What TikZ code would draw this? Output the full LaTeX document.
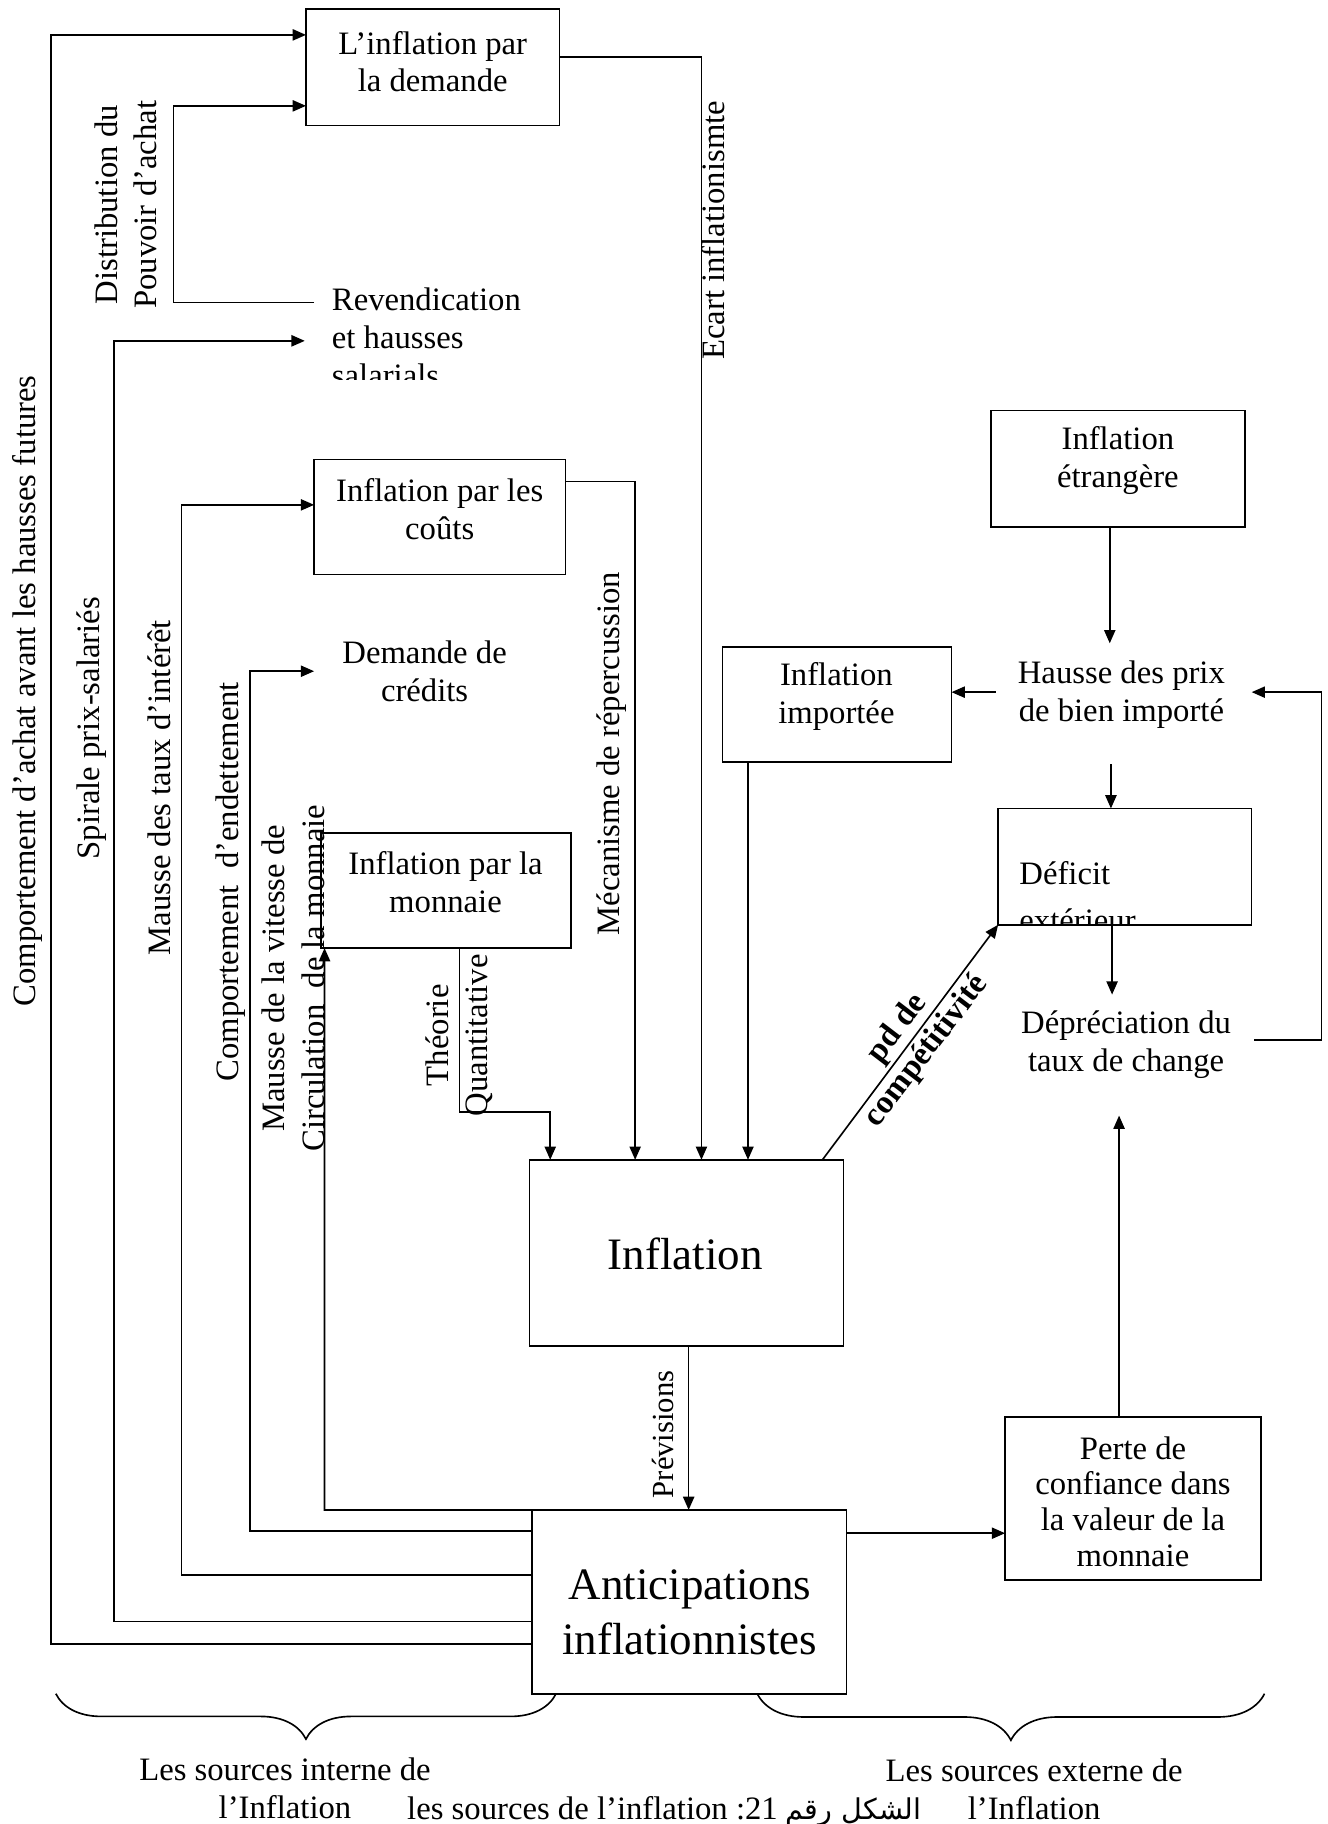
\documentclass[tikz,border=0pt]{standalone}
\usepackage{fontspec}
\setmainfont{Liberation Serif}
\newfontfamily\arabicfont[Script=Arabic]{DejaVu Sans}
\TeXXeTstate=1
\usetikzlibrary{arrows.meta,decorations.pathreplacing}
\begin{document}
\begin{tikzpicture}[x=0.02cm,y=-0.02cm,
  box/.style={draw,line width=0.8pt,inner sep=0pt,outer sep=0pt},
  txt/.style={inner sep=0pt,align=center,font=\fontsize{16}{18.5}\selectfont},
  rot/.style={txt,rotate=90},
  ln/.style={line width=0.8pt},
  arr/.style={ln,-{Triangle[length=6.5pt,width=5.5pt]}}]
\useasboundingbox (0,0) rectangle (1141,1568);

% boxes
\node[box,minimum width=4.36cm,minimum height=2cm] (dem) at (372,58) {};
\node[box,minimum width=4.32cm,minimum height=1.98cm] (cout) at (378,444.5) {};
\node[box,minimum width=4.30cm,minimum height=1.98cm] (mon) at (383.5,765.5) {};
\node[box,minimum width=5.4cm,minimum height=3.2cm] (infl) at (590,1077) {};
\node[box,minimum width=5.41cm,minimum height=3.16cm] (anti) at (592.5,1377) {};
\node[box,minimum width=4.36cm,minimum height=2cm] (etr) at (961,403) {};
\node[box,minimum width=3.94cm,minimum height=1.98cm] (imp) at (719.5,605.5) {};
\node[box,minimum width=4.36cm,minimum height=2cm] (def) at (967,745) {};
\node[box,minimum width=4.4cm,minimum height=2.8cm] (perte) at (974,1288) {};

% box texts
\node[txt] (demt) at (372,53) {L’inflation par\\la demande};
\node[txt] (coutt) at (378,438) {Inflation par les\\coûts};
\node[txt] (mont) at (383,758) {Inflation par la\\monnaie};
\node[txt,font=\fontsize{22}{27}\selectfont] (inflt) at (589,1078) {Inflation};
\node[txt,font=\fontsize{22}{27.3}\selectfont] (antit) at (593,1386) {Anticipations\\inflationnistes};
\node[txt] (etrt) at (961,396) {Inflation\\étrangère};
\node[txt] (impt) at (719,599) {Inflation\\importée};
\node[txt,font=\fontsize{16}{17.6}\selectfont] (pertet) at (974,1291) {Perte de\\confiance dans\\la valeur de la\\monnaie};
\begin{scope}
\clip (def.north west) rectangle (def.south east);
\node[txt,align=left,anchor=base west,font=\fontsize{16}{23}\selectfont] (deft) at (876,801) {Déficit\\extérieur};
\end{scope}

% free texts
\begin{scope}
\clip (270,230) rectangle (470,326);
\node[txt,align=left,anchor=west] (rev) at (285,290) {Revendication\\et hausses\\salarials};
\end{scope}
\node[txt] (cred) at (365,577) {Demande de\\crédits};
\node[txt] (hausse) at (964,597) {Hausse des prix\\de bien importé};
\node[txt] (dep) at (968,898) {Dépréciation du\\taux de change};

% rotated labels
\node[rot] (l1) at (24,594) {Comportement d’achat avant les hausses futures};
\node[rot] (l2) at (79,626) {Spirale prix-salariés};
\node[rot] (l3) at (137,677) {Mausse des taux d’intérêt};
\node[rot] (l4) at (198,758) {Comportement\ \ d’endettement};
\node[rot,font=\fontsize{16}{19.5}\selectfont] (l5) at (252,841) {Mausse de la vitesse de\\Circulation\ \ de la monnaie};
\node[rot,font=\fontsize{16}{19.3}\selectfont] (ldist) at (108,176) {Distribution du\\Pouvoir d’achat};
\node[rot] (lecart) at (613,198) {Ecart inflationismte};
\node[rot] (lmeca) at (526,648) {Mécanisme de répercussion};
\node[rot,font=\fontsize{16}{19.3}\selectfont] (ltheo) at (395,890) {Théorie\\Quantitative};
\node[rot,font=\fontsize{15}{18}\selectfont] (lprev) at (570,1233) {Prévisions};
\node[txt,rotate=52.6,font=\bfseries\fontsize{16}{18}\selectfont] (lpd) at (784,894) {pd de\\compétitivité};

% free ends
\coordinate (revin) at (262,293);
\coordinate (revout) at (270,260);
\coordinate (credin) at (270,577);
\coordinate (hausseT) at (954,553);
\coordinate (hausseL) at (856,595);
\coordinate (hausseB) at (955,657);
\coordinate (hausseR) at (1076,595);
\coordinate (depT) at (956,855);
\coordinate (depR) at (1078,894);
\coordinate (depB) at (962,959);

% left feedback loops
\draw[arr] (anti.west |- 0,1413) -- (44,1413) -- (44,30) -- (dem.west |- 0,30);
\draw[arr] (anti.west |- 0,1394) -- (98,1394) -- (98,293) -- (revin);
\draw[arr] (anti.west |- 0,1354) -- (156,1354) -- (156,434) -- (cout.west |- 0,434);
\draw[arr] (anti.west |- 0,1316) -- (215,1316) -- (215,577) -- (credin);
\draw[arr] (anti.north west) -- (279,1298) -- (279,0 |- mon.south);
\draw[arr] (revout) -- (149,260) -- (149,91) -- (dem.west |- 0,91);

% into Inflation
\draw[arr] (dem.east |- 0,49) -- (603,49) -- (603,0 |- infl.north);
\draw[arr] (cout.east |- 0,414) -- (546,414) -- (546,0 |- infl.north);
\draw[arr] (395,0 |- mon.south) -- (395,956) -- (473,956) -- (473,0 |- infl.north);
\draw[arr] (643,0 |- imp.south) -- (643,0 |- infl.north);
\draw[arr] (707,0 |- infl.north) -- (def.south west);

% external chain
\draw[arr] (954,0 |- etr.south) -- (hausseT);
\draw[arr] (hausseL) -- (imp.east |- hausseL);
\draw[arr] (hausseB) -- (hausseB |- def.north);
\draw[arr] (956,0 |- def.south) -- (depT);
\draw[arr] (depR) -- (1136,894) -- (1136,595) -- (hausseR);
\draw[arr] (962,0 |- perte.north) -- (depB);
\draw[arr] (anti.east |- 0,1318) -- (perte.west |- 0,1318);
\draw[arr] (592,0 |- infl.south) -- (592,0 |- anti.north);

% braces
\draw[ln,decorate,decoration={brace,mirror,amplitude=0.78cm}] (48,1456) -- (478,1456);
\draw[ln,decorate,decoration={brace,mirror,amplitude=0.8cm}] (651,1456) -- (1087,1456);

\node[txt] (srcint) at (245,1537) {Les sources interne de\\l’Inflation};
\node[txt] (srcext) at (889,1538) {Les sources externe de\\l’Inflation};
\node[txt,anchor=base] (cap) at (571,1564) {les sources de l’inflation :21 {\arabicfont\fontsize{14}{16}\selectfont\beginR الشكل رقم\endR}};
\end{tikzpicture}
\end{document}
